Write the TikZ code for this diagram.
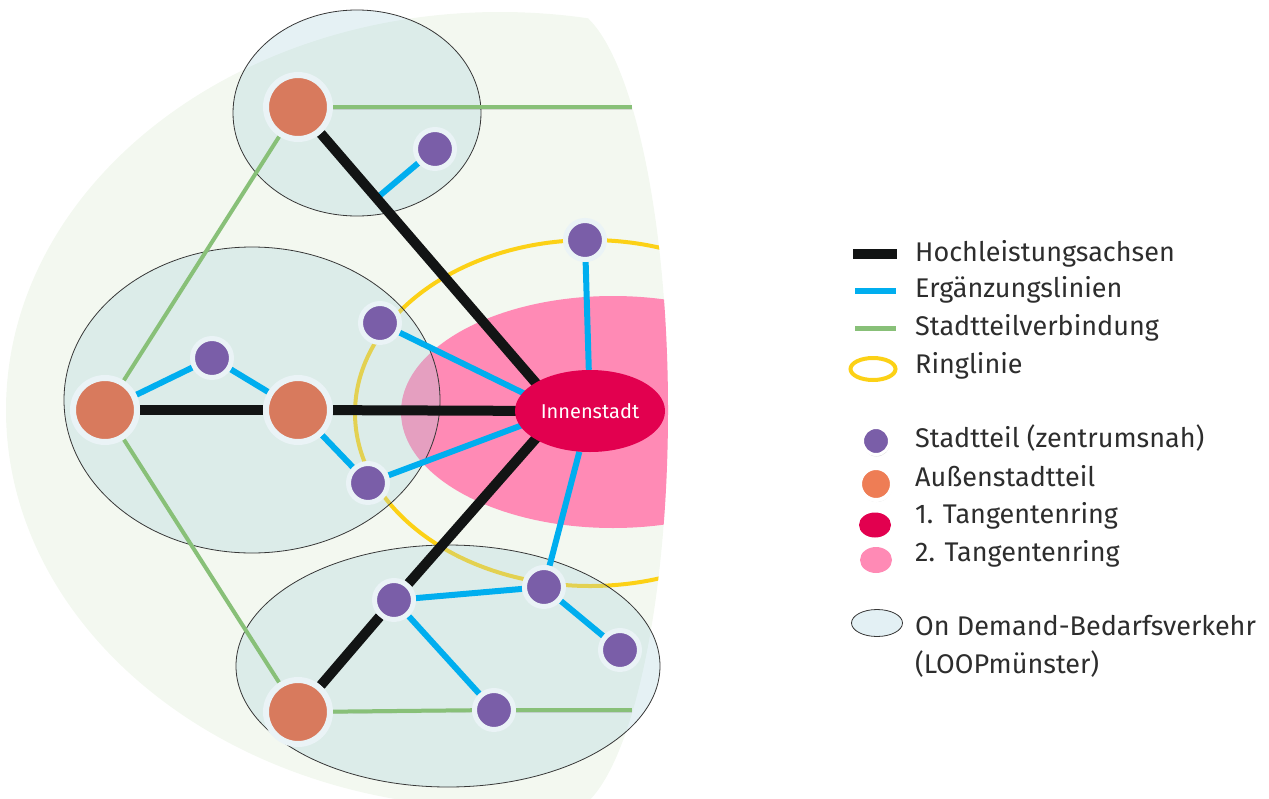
\documentclass[tikz,border=0pt]{standalone}
\usepackage{fontspec}
\setmainfont{Fira Sans}
\usepackage{xcolor}
\definecolor{bggreen}{RGB}{243,248,240}
\definecolor{odblue}{RGB}{170,210,220}
\definecolor{odlight}{RGB}{227,240,244}
\definecolor{odline}{RGB}{55,55,55}
\definecolor{axisblack}{RGB}{18,20,20}
\definecolor{suppblue}{RGB}{0,174,239}
\definecolor{linkgreen}{RGB}{136,192,120}
\definecolor{ringyellow}{RGB}{252,209,22}
\definecolor{tangpink}{RGB}{255,138,181}
\definecolor{tangred}{RGB}{226,0,79}
\definecolor{distpurple}{RGB}{122,94,168}
\definecolor{outorange}{RGB}{216,122,93}
\definecolor{legorange}{RGB}{238,125,85}
\definecolor{ringwhite}{RGB}{234,243,246}
\definecolor{txtgray}{RGB}{45,45,45}
\usepackage{tikz}
\usetikzlibrary{calc,positioning,shapes.geometric,shadows}
\pgfdeclarelayer{bg}
\pgfsetlayers{bg,main}
\tikzset{
    district/.style={
    circle,draw=ringwhite,fill=distpurple,line width=5pt,minimum size=39pt,inner sep=0pt,
    drop shadow={shadow xshift=0.5pt,shadow yshift=-2pt,opacity=0.25}
    },
    outer/.style={
    circle,draw=ringwhite,fill=outorange,line width=6pt,minimum size=64pt,inner sep=0pt,
    drop shadow={shadow xshift=0.5pt,shadow yshift=-2pt,opacity=0.25}
    },
    centre/.style={
    ellipse,fill=tangred,text=white,minimum width=150pt,minimum height=82pt,inner sep=0pt,
    font=\fontsize{20}{24}\selectfont
    },
    ondemand/.style={draw=odline,line width=0.8pt,fill=odblue,fill opacity=0.3},
  lshadow/.style={preaction={draw=black,draw opacity=0.12,transform canvas={yshift=-2pt}}},
  axis/.style={draw=axisblack, line width=10pt},
  supp/.style={draw=suppblue, line width=6pt},
  link/.style={draw=linkgreen, line width=4pt},
  ringline/.style={draw=ringyellow, line width=4pt},
  legtext/.style={anchor=base west, inner sep=0pt, text=txtgray, font=\fontsize{27}{32}\selectfont},
}

\begin{document}
\begin{tikzpicture}[x=1pt,y=-1pt]
\useasboundingbox (0,0) rectangle (1269,798);

  % districts
  \node[outer] (o1) at (298,107) {};
  \node[outer] (o2) at (105,410) {};
  \node[outer] (o3) at (298,410) {};
  \node[outer] (o4) at (298,712) {};
  \node[district] (d1) at (435,149) {};
  \node[district] (d2) at (212,358) {};
  \node[district] (d3) at (380,323) {};
  \node[district] (d4) at (368,483) {};
  \node[district] (d5) at (585,240) {};
  \node[district] (d6) at (394,600) {};
  \node[district] (d7) at (544,587) {};
  \node[district] (d8) at (620,650) {};
  \node[district] (d9) at (494,710) {};
  \node[centre] (inn) at (590,411) {Innenstadt};
  \coordinate (hub) at (560,411);
  \coordinate (j1) at ($(o1)!0.3!(hub)$);
  \coordinate (edgeN) at (632,107);
  \coordinate (edgeS) at (632,710);

\begin{pgfonlayer}{bg}
  \begin{scope}
    \clip (562,6) arc[start angle=-90,end angle=90,x radius=106,y radius=404] -- (-10,814) -- (-10,6) -- cycle;
    \fill[bggreen] (500,410) ellipse [x radius=494,y radius=398];
    \fill[tangpink] (613,412) ellipse [x radius=212,y radius=116];
    \path[ringline] (590,413) ellipse [x radius=235,y radius=173];
  \end{scope}
  \path[ondemand] (357,113) ellipse [x radius=124,y radius=103];
  \path[ondemand] (252,400) ellipse [x radius=188,y radius=153];
  \path[ondemand] (448,666) ellipse [x radius=212,y radius=121];

  \path[link,lshadow] (o1) -- (edgeN);
  \path[link,lshadow] (o1) -- (o2);
  \path[link,lshadow] (o2) -- (o4);
  \path[link,lshadow] (o4) -- (d9);
  \path[link,lshadow] (d9) -- (edgeS);

  \path[supp,lshadow] (d1) -- (j1);
  \path[supp,lshadow] (o2) -- (d2);
  \path[supp,lshadow] (d2) -- (o3);
  \path[supp,lshadow] (o3) -- (d4);
  \path[supp,lshadow] (d3) -- (hub);
  \path[supp,lshadow] (d4) -- (hub);
  \path[supp,lshadow] (d5) -- (inn);
  \path[supp,lshadow] (d7) -- (inn);
  \path[supp,lshadow] (d6) -- (d7);
  \path[supp,lshadow] (d7) -- (d8);
  \path[supp,lshadow] (d6) -- (d9);

  \path[axis,lshadow] (o1) -- (hub);
  \path[axis,lshadow] (o2) -- (o3);
  \path[axis,lshadow] (o3) -- (hub);
  \path[axis,lshadow] (o4) -- (d6);
  \path[axis,lshadow] (d6) -- (hub);
\end{pgfonlayer}

  % legend
  \path[axis,lshadow] (853,254) -- (897,254);
  \path[supp,lshadow] (855,291) -- (896,291);
  \path[link,lshadow,line width=5pt] (855,328) -- (896,328);
  \path[ringline] (873,369) ellipse [x radius=22.5,y radius=11];
  \node[district,line width=3pt,minimum size=27pt,draw=white] (kd) at (876,441) {};
  \node[outer,line width=4pt,minimum size=32pt,draw=white,fill=legorange] (ko) at (876,484) {};
  \node[ellipse,fill=tangred,minimum width=32pt,minimum height=25pt,inner sep=0pt] (kr) at (875,525) {};
  \node[ellipse,fill=tangpink,minimum width=32pt,minimum height=26pt,inner sep=0pt] (kp) at (876,560) {};
  \node[ellipse,draw=odline,line width=0.8pt,fill=odlight,minimum width=51pt,minimum height=27pt,inner sep=0pt] (kl) at (877,623) {};

  \node[legtext] (t1) at (915,261) {Hochleistungsachsen};
  \node[legtext] (t2) at (915,297) {Ergänzungslinien};
  \node[legtext] (t3) at (915,335) {Stadtteilverbindung};
  \node[legtext] (t4) at (915,373) {Ringlinie};
  \node[legtext] (t5) at (915,447) {Stadtteil (zentrumsnah)};
  \node[legtext] (t6) at (915,486) {Außenstadtteil};
  \node[legtext] (t7) at (915,523) {1. Tangentenring};
  \node[legtext] (t8) at (915,561) {2. Tangentenring};
  \node[legtext] (t9) at (915,635) {On Demand-Bedarfsverkehr};
  \node[legtext] (t10) at (915,673) {(LOOPmünster)};
\end{tikzpicture}
\end{document}
